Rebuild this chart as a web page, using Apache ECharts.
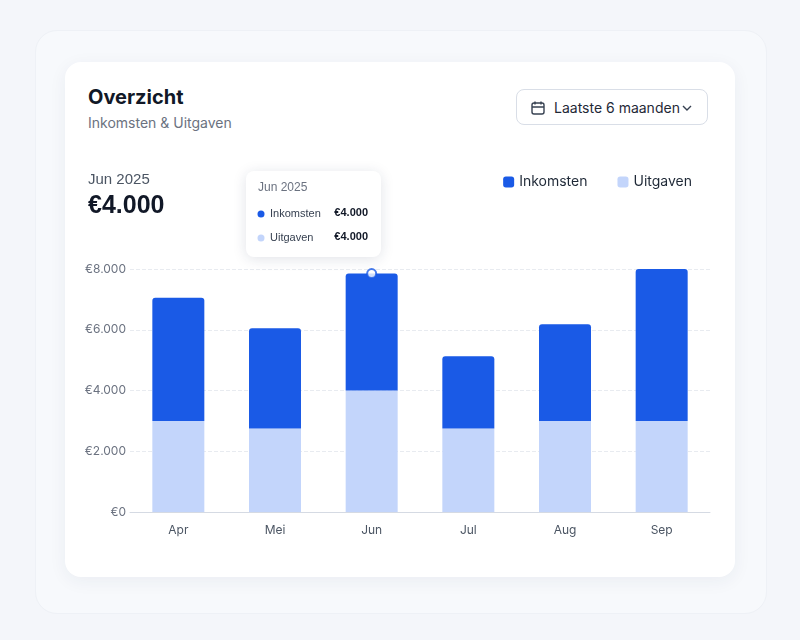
<!DOCTYPE html>
<html><head><meta charset="utf-8">
<script src="https://cdn.jsdelivr.net/npm/echarts@6/dist/echarts.min.js"></script>
<style>
body{margin:0;width:800px;height:640px;background:#f4f6fa;font-family:Inter,"Noto Sans",sans-serif;position:relative;overflow:hidden}
.outer{position:absolute;left:35px;top:30px;width:730px;height:582px;border-radius:22px;background:#f7f9fc;border:1px solid #eef1f6}
.card{position:absolute;left:65px;top:62px;width:670px;height:515px;border-radius:16px;background:#fff;box-shadow:0 4px 18px rgba(30,50,90,.06)}
.t{position:absolute;left:88px;top:85px;font-size:20px;font-weight:700;color:#111827}
.s{position:absolute;left:88px;top:114px;font-size:14px;color:#6b7280}
.dd{position:absolute;left:516px;top:89px;width:192px;height:36px;border:1px solid #d9dee7;border-radius:8px;font-size:14px;color:#1f2937;box-sizing:border-box}
#c{position:absolute;left:0;top:0;width:800px;height:640px}
</style></head><body>
<div class="outer"></div><div class="card"></div>
<div class="t">Overzicht</div><div class="s">Inkomsten &amp; Uitgaven</div>
<div class="dd">
<svg style="position:absolute;left:13px;top:10px" width="16" height="16" viewBox="0 0 16 16" fill="none" stroke="#374151" stroke-width="1.4"><rect x="2" y="3" width="12" height="11" rx="2"/><path d="M2 7h12M5 1.5v3M11 1.5v3"/></svg>
<span style="position:absolute;left:37px;top:9px">Laatste 6 maanden</span>
<svg style="position:absolute;left:164px;top:12px" width="12" height="12" viewBox="0 0 12 12" fill="none" stroke="#374151" stroke-width="1.4"><path d="M2 4l4 4 4-4"/></svg>
</div>
<div id="c"></div>
<script>
var months = ['Apr', 'Mei', 'Jun', 'Jul', 'Aug', 'Sep'];
var uitgaven = [3000, 2750, 4000, 2750, 3000, 3000];
var inkomsten = [4050, 3300, 3850, 2380, 3180, 5000];
var yTicks = [0, 2000, 4000, 6000, 8000];

var chart = echarts.init(document.getElementById('c'));
var totals = months.map(function (m, i) { return uitgaven[i] + inkomsten[i]; });
var fmt = function (v) { return '€' + (v === 0 ? '0' : v.toLocaleString('de-DE')); };

chart.setOption({
    textStyle: { fontFamily: 'Inter' },
    grid: { left: 130, right: 90, top: 269, bottom: 128 },
    legend: {
        right: 103, top: 170, itemWidth: 11, itemHeight: 11, itemGap: 30,
        icon: 'roundRect', textStyle: { fontSize: 14, color: '#1f2937' },
        data: ['Inkomsten', 'Uitgaven']
    },
    xAxis: {
        type: 'category', data: months,
        axisTick: { show: false },
        axisLine: { lineStyle: { color: '#d5dae3' } },
        axisLabel: { color: '#4b5563', fontSize: 12, margin: 12 }
    },
    yAxis: {
        type: 'value', min: 0, max: 8000, interval: 2000,
        axisLabel: { color: '#6b7280', fontSize: 12, margin: 4, formatter: fmt },
        splitLine: { lineStyle: { color: '#e8ebf0', type: 'dashed' } }
    },
    series: [
        { name: 'Uitgaven', type: 'bar', stack: 't', barWidth: 52, data: uitgaven,
          itemStyle: { color: '#c3d5fb' } },
        { name: 'Inkomsten', type: 'bar', stack: 't', barWidth: 52, data: inkomsten,
          itemStyle: { color: '#1a5ae6', borderRadius: [3, 3, 0, 0] } },
        { type: 'scatter', data: [[2, totals[2]]], symbolSize: 9, z: 5,
          itemStyle: { color: '#fff', borderColor: '#1a5ae6', borderWidth: 2 },
          silent: true, legendHoverLink: false }
    ],
    graphic: [
        { type: 'text', left: 88, top: 172, style: { text: 'Jun 2025', fontSize: 15, fill: '#4b5563' } },
        { type: 'text', left: 88, top: 194, style: { text: '€4.000', fontSize: 25, fontWeight: 700, fill: '#111827' } },
        { type: 'rect', left: 246, top: 171, shape: { width: 135, height: 86, r: 8 },
          style: { fill: '#fff', shadowBlur: 14, shadowColor: 'rgba(20,40,80,0.13)', shadowOffsetY: 2 }, z: 10 },
        { type: 'text', left: 258, top: 182, z: 11, style: { text: 'Jun 2025', fontSize: 12, fill: '#6b7280' } },
        { type: 'circle', shape: { cx: 261, cy: 214, r: 3.5 }, z: 11, style: { fill: '#1a5ae6' } },
        { type: 'text', left: 270, top: 208, z: 11, style: { text: 'Inkomsten', fontSize: 11, fill: '#374151' } },
        { type: 'text', right: 432, top: 207, z: 11, style: { text: '€4.000', fontSize: 11, fontWeight: 700, fill: '#111827' } },
        { type: 'circle', shape: { cx: 261, cy: 238, r: 3.5 }, z: 11, style: { fill: '#c3d5fb' } },
        { type: 'text', left: 270, top: 232, z: 11, style: { text: 'Uitgaven', fontSize: 11, fill: '#374151' } },
        { type: 'text', right: 432, top: 231, z: 11, style: { text: '€4.000', fontSize: 11, fontWeight: 700, fill: '#111827' } }
    ]
});
</script>
</body></html>
